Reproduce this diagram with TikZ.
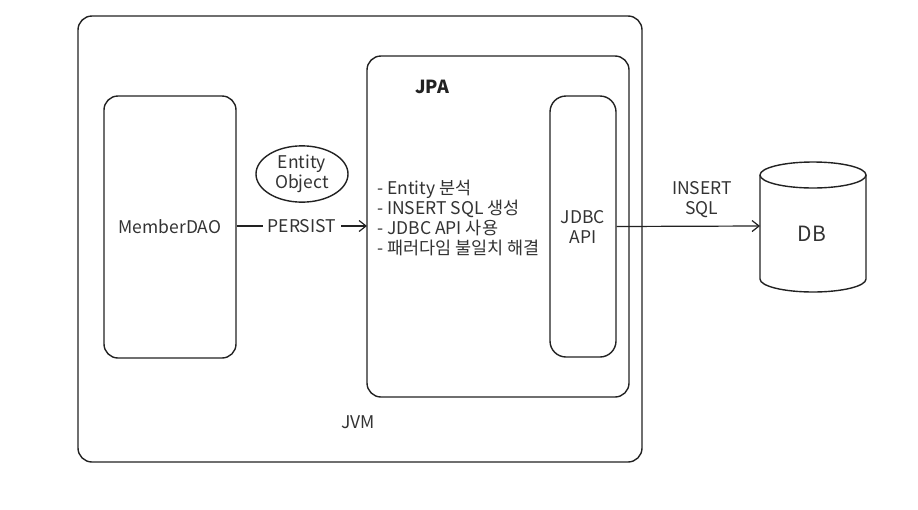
\documentclass[tikz,border=0pt]{standalone}
\usepackage{fontspec}
\setmainfont{Noto Sans CJK KR}
\usetikzlibrary{arrows.meta,shapes.geometric}
\definecolor{ink}{HTML}{222222}
\definecolor{txt}{HTML}{333333}
\tikzset{
  box/.style={draw=ink, line width=1.4pt, rounded corners=14pt},
  lbl/.style={text=txt, font=\fontsize{17.5}{20}\selectfont, align=center, inner sep=1pt},
  conn/.style={draw=ink, line width=1.2pt, -{Straight Barb[length=7pt,width=11pt]}}
}
\begin{document}
\begin{tikzpicture}[x=1pt,y=-1pt]
\useasboundingbox (0,0) rectangle (918,509);
\fill[white] (0,0) rectangle (918,509);
% JVM
\draw[box] (78,16) rectangle (642,462);
\node[lbl] (jvm) at (358,422) {JVM};
% JPA
\draw[box] (367,56) rectangle (629,397);
\node[lbl, text=ink, font=\fontsize{18}{20}\selectfont\bfseries] (jpa) at (432,87) {JPA};
\coordinate (jpaL) at (367,226);
% MemberDAO
\node[box, minimum width=132pt, minimum height=262pt, lbl] (dao) at (170,227) {MemberDAO};
% JDBC API
\node[box, minimum width=66pt, minimum height=261pt, lbl, rounded corners=16pt] (jdbc) at (583,226.5) {JDBC\\API};
% Entity Object
\node[ellipse, draw=ink, line width=1.4pt, minimum width=92pt, minimum height=50pt, lbl] (ent) at (302,174) {Entity\\Object};
% list
\node[lbl, align=left, anchor=north west] (list) at (376,179) {- Entity 분석\\- INSERT SQL 생성\\- JDBC API 사용\\- 패러다임 불일치 해결};
% DB cylinder
\draw[draw=ink, line width=1.4pt, fill=white] (760,175) -- (760,279) arc[start angle=180, end angle=0, x radius=53, y radius=13] -- (866,175);
\draw[draw=ink, line width=1.4pt] (813,175) ellipse[x radius=53, y radius=13];
\coordinate (dbW) at (760,226);
\node[lbl, font=\fontsize{21}{24}\selectfont] (db) at (812,234) {DB};
% connectors
\draw[conn] (dao.east |- jpaL) -- node[lbl, fill=white, inner xsep=5pt] (persist) {PERSIST} (jpaL);
\draw[conn] (jdbc.east) -- (dbW);
\node[lbl] (ins) at (702,200) {INSERT\\SQL};
\end{tikzpicture}
\end{document}
